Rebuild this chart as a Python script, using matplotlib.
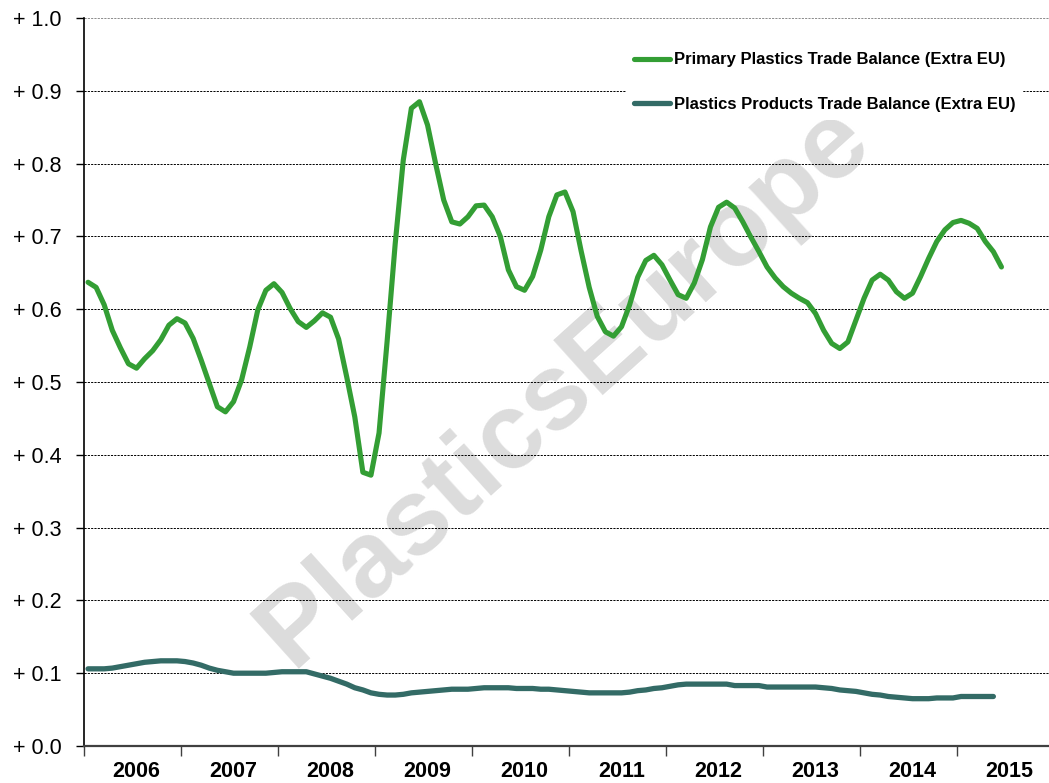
import numpy as np
import matplotlib
matplotlib.use("Agg")
import matplotlib.pyplot as plt

plt.rcParams['font.family'] = ['Liberation Sans', 'DejaVu Sans']

# -----------------------------
# Data (monthly, Jan 2006 onwards)
# -----------------------------
primary_label = "Primary Plastics Trade Balance (Extra EU)"
products_label = "Plastics Products Trade Balance (Extra EU)"

primary = [
    0.637, 0.630, 0.606, 0.571, 0.547, 0.525, 0.519, 0.532, 0.543, 0.558, 0.578, 0.587,
    0.581, 0.560, 0.530, 0.498, 0.466, 0.459, 0.473, 0.503, 0.548, 0.599, 0.626, 0.635,
    0.623, 0.601, 0.583, 0.575, 0.584, 0.595, 0.589, 0.559, 0.507, 0.452, 0.376, 0.372,
    0.430, 0.556, 0.690, 0.805, 0.876, 0.885, 0.853, 0.800, 0.750, 0.720, 0.717, 0.727,
    0.742, 0.743, 0.727, 0.700, 0.654, 0.631, 0.626, 0.645, 0.681, 0.727, 0.757, 0.761,
    0.734, 0.680, 0.630, 0.590, 0.569, 0.563, 0.576, 0.606, 0.644, 0.667, 0.674, 0.661,
    0.640, 0.620, 0.615, 0.636, 0.668, 0.713, 0.740, 0.747, 0.739, 0.720, 0.699, 0.679,
    0.658, 0.643, 0.631, 0.622, 0.615, 0.609, 0.594, 0.571, 0.553, 0.546, 0.555, 0.585,
    0.615, 0.640, 0.648, 0.640, 0.624, 0.615, 0.622, 0.645, 0.670, 0.693, 0.709, 0.719,
    0.722, 0.718, 0.711, 0.693, 0.679, 0.658,
]

products = [
    0.106, 0.106, 0.106, 0.107, 0.109, 0.111, 0.113, 0.115, 0.116, 0.117, 0.117, 0.117,
    0.116, 0.114, 0.111, 0.107, 0.104, 0.102, 0.100, 0.100, 0.100, 0.100, 0.100, 0.101,
    0.102, 0.102, 0.102, 0.102, 0.099, 0.096, 0.093, 0.089, 0.085, 0.080, 0.077, 0.073,
    0.071, 0.070, 0.070, 0.071, 0.073, 0.074, 0.075, 0.076, 0.077, 0.078, 0.078, 0.078,
    0.079, 0.080, 0.080, 0.080, 0.080, 0.079, 0.079, 0.079, 0.078, 0.078, 0.077, 0.076,
    0.075, 0.074, 0.073, 0.073, 0.073, 0.073, 0.073, 0.074, 0.076, 0.077, 0.079, 0.080,
    0.082, 0.084, 0.085, 0.085, 0.085, 0.085, 0.085, 0.085, 0.083, 0.083, 0.083, 0.083,
    0.081, 0.081, 0.081, 0.081, 0.081, 0.081, 0.081, 0.080, 0.079, 0.077, 0.076, 0.075,
    0.073, 0.071, 0.070, 0.068, 0.067, 0.066, 0.065, 0.065, 0.065, 0.066, 0.066, 0.066,
    0.068, 0.068, 0.068, 0.068, 0.068,
]

years = list(range(2006, 2016))
y_ticks = [0.0, 0.1, 0.2, 0.3, 0.4, 0.5, 0.6, 0.7, 0.8, 0.9, 1.0]

green = '#339e34'
teal = '#336b66'

# months plotted at mid-month, in year units
x_primary = years[0] + (np.arange(len(primary)) + 0.5) / 12
x_products = years[0] + (np.arange(len(products)) + 0.5) / 12

W, H = 1049, 783
fig = plt.figure(figsize=(W / 100, H / 100), dpi=100)
ax = fig.add_axes([84 / W, 1 - 746 / H, 970 / W, 728 / H])

# watermark
ax.text(0.495, 0.495, "PlasticsEurope", transform=ax.transAxes, rotation=42,
        fontsize=78, fontweight='bold', color='#dcdcdc', ha='center', va='center',
        zorder=0.1)

ax.plot(x_primary, primary, color=green, lw=3.7, solid_capstyle='round',
        solid_joinstyle='round', label=primary_label, zorder=3)
ax.plot(x_products, products, color=teal, lw=3.8, solid_capstyle='round',
        solid_joinstyle='round', label=products_label, zorder=3)

ax.set_xlim(years[0], years[-1] + 1)
ax.set_ylim(0, 1.0)

# y axis
ax.set_yticks(y_ticks)
ax.set_yticklabels([f"+ {v:.1f}" for v in y_ticks], fontsize=15.5)
ax.tick_params(axis='y', direction='out', length=6, width=1, pad=10, color='black')
ax.yaxis.grid(True, linestyle=(0, (2.2, 1.2)), color='black', lw=0.7)
ax.set_axisbelow(True)
ax.get_ygridlines()[-1].set_color('#8c8c8c')

# x axis: ticks at year boundaries, labels centred in each year
ax.set_xticks(years + [years[-1] + 1])
ax.set_xticklabels([])
ax.set_xticks([y + 0.54 for y in years], minor=True)
ax.set_xticklabels([str(y) for y in years], minor=True, fontsize=15.5, fontweight='bold')
ax.tick_params(axis='x', which='major', direction='out', length=7, width=1, color='#404040')
ax.tick_params(axis='x', which='minor', length=0, pad=11)

for s in ['top', 'right']:
    ax.spines[s].set_visible(False)
ax.spines['left'].set_color('black')
ax.spines['left'].set_linewidth(1.2)
ax.spines['bottom'].set_color('#404040')
ax.spines['bottom'].set_linewidth(1.6)

leg = ax.legend(loc='upper left', bbox_to_anchor=(626 / W, 1 - 44 / H),
                bbox_transform=fig.transFigure, frameon=True, fancybox=False,
                prop={'size': 12, 'weight': 'bold'}, handlelength=2.15,
                handletextpad=0.2, labelspacing=1.75, borderpad=0.5,
                borderaxespad=0)
leg.get_frame().set_facecolor('white')
leg.get_frame().set_edgecolor('none')
leg.get_frame().set_alpha(1)

fig.savefig("out.png", dpi=100)
